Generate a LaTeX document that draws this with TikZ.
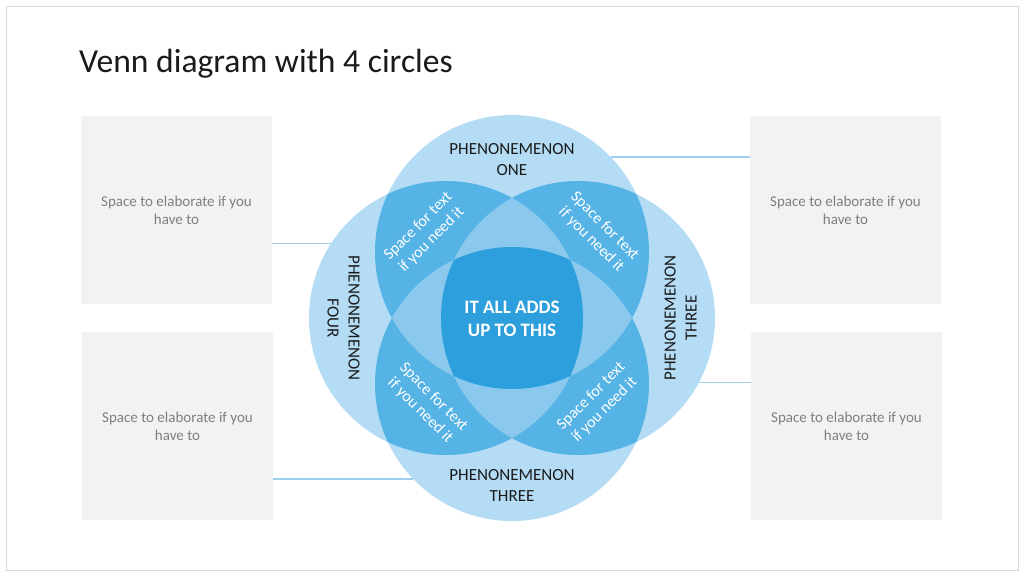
\documentclass[tikz,border=0pt]{standalone}
\usepackage{fontspec}
\setmainfont{Carlito}
\definecolor{cbase}{HTML}{B4DCF4}
\definecolor{cpair}{HTML}{55B3E5}
\definecolor{ctriple}{HTML}{8BC8EE}
\definecolor{cquad}{HTML}{2D9FDC}
\definecolor{clink}{HTML}{9CD0EE}
\definecolor{cbox}{HTML}{F2F2F2}
\definecolor{cboxtext}{HTML}{7F7F7F}
\definecolor{cframe}{HTML}{D9D9D9}
\definecolor{cdark}{HTML}{1A1A1A}
\begin{document}
\begin{tikzpicture}[x=1pt,y=-1pt,
  venn/.style={circle, minimum size=274pt, inner sep=0pt, outer sep=0pt, fill=cbase},
  sidebox/.style={rectangle, fill=cbox, minimum width=191pt, minimum height=188pt, inner sep=0pt,
    text=cboxtext, align=center, font=\fontsize{15}{18}\selectfont},
  lbl/.style={text=cdark, align=center, font=\fontsize{17}{21}\selectfont},
  pairtxt/.style={text=white, align=center, font=\fontsize{16}{19}\selectfont},
  link/.style={draw=clink, line width=1.6pt}]
\useasboundingbox (0,0) rectangle (1024,576);
\draw[cframe, line width=1pt] (6,6) rectangle (1018,570);
\node[anchor=base west, text=cdark, font=\fontsize{33.6}{40}\selectfont, inner sep=0pt] (title) at (79,72) {Venn diagram with 4 circles};

% side boxes
\node[sidebox] (blt) at (176.5,210) {Space to elaborate if you\\have to};
\node[sidebox] (blb) at (177.5,426) {Space to elaborate if you\\have to};
\node[sidebox] (brt) at (845.5,210) {Space to elaborate if you\\have to};
\node[sidebox] (brb) at (846.5,426) {Space to elaborate if you\\have to};

% circles
\coordinate (T) at (512,252);
\coordinate (B) at (512,384);
\coordinate (L) at (446,318);
\coordinate (R) at (578,318);
\node[venn] (cT) at (T) {};
\node[venn] (cB) at (B) {};
\node[venn] (cL) at (L) {};
\node[venn] (cR) at (R) {};

% connectors
\draw[link] (cL.147.8) -- (cL.147.8 -| blt.east);
\draw[link] (cB.224.5) -- (cB.224.5 -| blb.east);
\draw[link] (cT.44.5) -- (cT.44.5 -| brt.west);
\draw[link] (cR.-28.3) -- (cR.-28.3 -| brb.west);

% pair overlaps
\begin{scope}\clip (T) circle[radius=137pt]; \fill[cpair] (L) circle[radius=137pt]; \fill[cpair] (R) circle[radius=137pt];\end{scope}
\begin{scope}\clip (B) circle[radius=137pt]; \fill[cpair] (L) circle[radius=137pt]; \fill[cpair] (R) circle[radius=137pt];\end{scope}
% triple overlaps
\begin{scope}\clip (T) circle[radius=137pt]; \clip (L) circle[radius=137pt]; \fill[ctriple] (R) circle[radius=137pt]; \fill[ctriple] (B) circle[radius=137pt];\end{scope}
\begin{scope}\clip (B) circle[radius=137pt]; \clip (R) circle[radius=137pt]; \fill[ctriple] (L) circle[radius=137pt]; \fill[ctriple] (T) circle[radius=137pt];\end{scope}
% quadruple overlap
\begin{scope}\clip (T) circle[radius=137pt]; \clip (L) circle[radius=137pt]; \clip (R) circle[radius=137pt]; \fill[cquad] (B) circle[radius=137pt];\end{scope}

% labels
\node[lbl] (l1) at (512,160) {PHENONEMENON\\ONE};
\node[lbl] (l3b) at (512,485) {PHENONEMENON\\THREE};
\node[lbl, rotate=-90] (l4) at (343.5,318) {PHENONEMENON\\FOUR};
\node[lbl, rotate=90] (l3r) at (680.5,318) {PHENONEMENON\\THREE};
\node[text=white, align=center, font=\bfseries\fontsize{19}{23}\selectfont] (ctr) at (512,319) {IT ALL ADDS\\UP TO THIS};

\node[pairtxt, rotate=45] (ptl) at (425,233) {Space for text\\if you need it};
\node[pairtxt, rotate=-45] (ptr) at (598,233) {Space for text\\if you need it};
\node[pairtxt, rotate=-45] (pbl) at (427,404) {Space for text\\if you need it};
\node[pairtxt, rotate=45] (pbr) at (598,403) {Space for text\\if you need it};
\end{tikzpicture}
\end{document}
